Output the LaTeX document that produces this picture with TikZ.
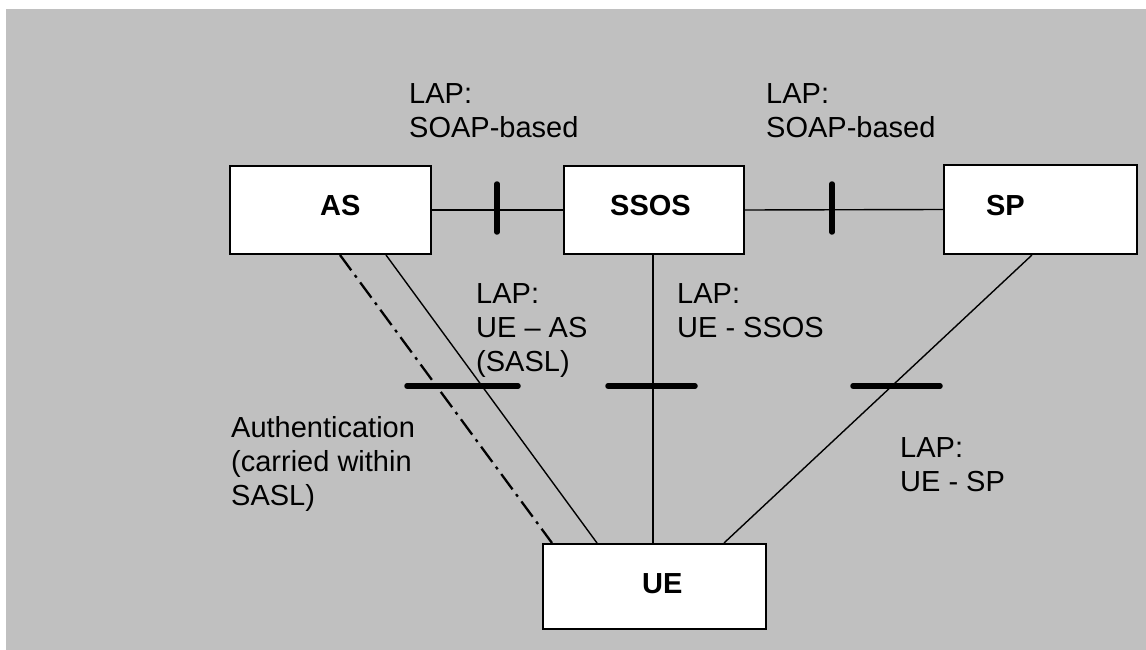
\documentclass[tikz,border=0pt]{standalone}
\usepackage{fontspec}
\setmainfont{Liberation Sans}
\usetikzlibrary{calc}
\definecolor{bggray}{RGB}{192,192,192}
\tikzset{
  box/.style={draw=black, line width=2pt, fill=white, inner sep=0pt, anchor=north west},
  boxname/.style={font={\fontsize{29}{34}\selectfont\bfseries}, inner sep=0pt, anchor=base west},
  lbl/.style={font={\fontsize{29}{34}\selectfont}, inner sep=0pt, anchor=north west, align=left},
  link/.style={line width=1.4pt},
  authlink/.style={line width=2.3pt, dash pattern=on 19pt off 6pt on 3pt off 6pt},
  tick/.style={line width=5.5pt, line cap=round},
}
\begin{document}
\begin{tikzpicture}[x=1pt,y=-1pt]
\useasboundingbox (0,0) rectangle (1146,650);
\fill[bggray] (6,9) rectangle (1146,650);

% boxes
\node[box, minimum width=201pt, minimum height=88pt] (as) at (229,165) {};
\node[box, minimum width=180pt, minimum height=88pt] (ssos) at (563,165) {};
\node[box, minimum width=193pt, minimum height=89pt] (sp) at (943,164) {};
\node[box, minimum width=223pt, minimum height=85pt] (ue) at (542,543) {};

\node[boxname] (asn) at (320,215) {AS};
\node[boxname] (ssosn) at (610,215) {SSOS};
\node[boxname, anchor=base east] (spn) at (1025,215) {SP};
\node[boxname] (uen) at (642,593) {UE};

% connectors
\draw[link] (as.east) -- (ssos.west);
\draw[link] (ssos.east) -- (sp.west);
\draw[authlink] ($(as.south west)+(111,0)$) -- ($(ue.north west)+(10,0)$);
\draw[link] ($(as.south west)+(157,0)$) -- ($(ue.north west)+(55,0)$);
\draw[link] ($(ssos.south west)+(90,0)$) -- ($(ue.north west)+(111,0)$);
\draw[link] ($(sp.south west)+(89,0)$) -- ($(ue.north west)+(182,0)$);

% interface ticks
\draw[tick] (497,184) -- (497,232);
\draw[tick] (832,184) -- (832,232);
\draw[tick] (407,386) -- (518,386);
\draw[tick] (608,386) -- (695,386);
\draw[tick] (853,386) -- (940,386);

% labels
\node[lbl] (l1) at (409,83) {LAP:\\SOAP-based};
\node[lbl] (l2) at (766,83) {LAP:\\SOAP-based};
\node[lbl] (l3) at (476,283) {LAP:\\UE – AS\\(SASL)};
\node[lbl] (l4) at (677,283) {LAP:\\UE - SSOS};
\node[lbl] (l5) at (231,416) {Authentication\\(carried within\\SASL)};
\node[lbl] (l6) at (900,437) {LAP:\\UE - SP};
\end{tikzpicture}
\end{document}
